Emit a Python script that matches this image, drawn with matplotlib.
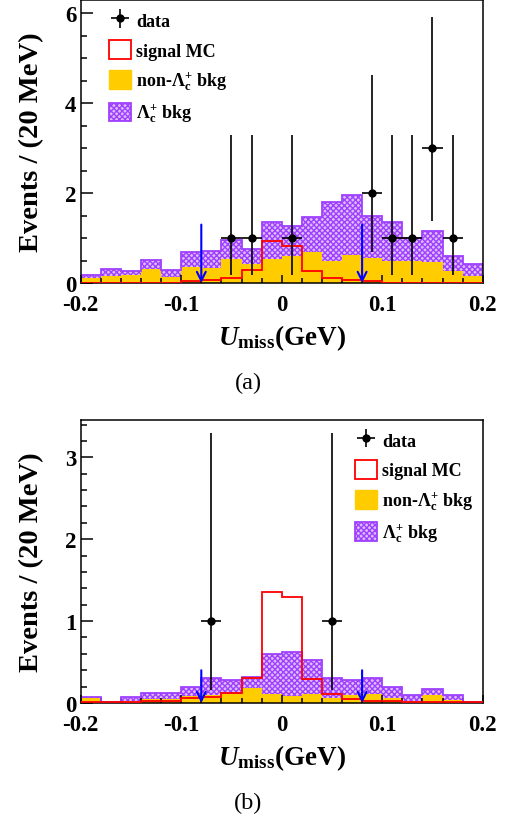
import matplotlib
matplotlib.use("Agg")
import matplotlib.pyplot as plt
import matplotlib.patches as mpatches
from matplotlib.ticker import MultipleLocator, FormatStrFormatter
import numpy as np

plt.rcParams['font.family'] = ['Liberation Serif', 'DejaVu Serif']
plt.rcParams['font.weight'] = 'bold'
plt.rcParams['mathtext.fontset'] = 'custom'
plt.rcParams['mathtext.rm'] = 'Liberation Serif:bold'
plt.rcParams['mathtext.it'] = 'Liberation Serif:italic:bold'
plt.rcParams['mathtext.bf'] = 'Liberation Serif:bold'
plt.rcParams['mathtext.bfit'] = 'Liberation Serif:italic:bold'
plt.rcParams['axes.unicode_minus'] = False
plt.rcParams['hatch.linewidth'] = 1.0

# bin edges of U_miss (GeV), 20 MeV bins
edges = np.linspace(-0.2, 0.2, 21)

# ---- panel (a) ----
nonlc_a = [0.11, 0.16, 0.18, 0.31, 0.14, 0.36, 0.34, 0.54, 0.42, 0.54,
           0.59, 0.68, 0.49, 0.62, 0.55, 0.50, 0.48, 0.46, 0.27, 0.16]
lcbkg_a = [0.07, 0.15, 0.095, 0.20, 0.16, 0.32, 0.37, 0.42, 0.34, 0.81,
           0.67, 0.78, 1.31, 1.33, 0.95, 0.85, 0.52, 0.69, 0.33, 0.26]
signal_a = [0.01, 0.01, 0.01, 0.01, 0.01, 0.04, 0.06, 0.11, 0.30, 0.94,
            0.83, 0.26, 0.12, 0.07, 0.04, 0.01, 0.01, 0.01, 0.01, 0.01]
data_a_x = [-0.05, -0.03, 0.01, 0.09, 0.11, 0.13, 0.15, 0.17]
data_a_y = [1, 1, 1, 2, 1, 1, 3, 1]
data_a_lo = [0.17, 0.17, 0.17, 0.70, 0.17, 0.17, 1.37, 0.17]
data_a_hi = [3.30, 3.30, 3.30, 4.64, 3.30, 3.30, 5.93, 3.30]

# ---- panel (b) ----
nonlc_b = [0.06, 0.00, 0.03, 0.05, 0.05, 0.08, 0.10, 0.11, 0.18, 0.11,
           0.08, 0.11, 0.06, 0.10, 0.11, 0.06, 0.02, 0.10, 0.04, 0.00]
lcbkg_b = [0.01, 0.016, 0.04, 0.07, 0.07, 0.12, 0.20, 0.17, 0.14, 0.49,
           0.54, 0.42, 0.24, 0.18, 0.19, 0.13, 0.08, 0.07, 0.06, 0.01]
signal_b = [0.016, 0.016, 0.01, 0.02, 0.03, 0.06, 0.07, 0.12, 0.31, 1.35,
            1.29, 0.29, 0.11, 0.05, 0.03, 0.02, 0.01, 0.01, 0.01, 0.01]
data_b_x = [-0.07, 0.05]
data_b_y = [1, 1]
data_b_lo = [0.16, 0.16]
data_b_hi = [3.30, 3.30]

cut_x = [-0.08, 0.08]
arrow_top = [1.3, 0.40]
ymax = [6.3, 3.46]
ymajor = [2, 1]
yminor = [0.5, 0.2]
captions = ['(a)', '(b)']

YELLOW = '#ffcc00'
PURPLE = '#a040ff'
PURPLE_BG = '#dcbcff'

fig = plt.figure(figsize=(5.11, 8.2), dpi=100)
ax_a = fig.add_axes([80.7 / 511, 1 - 284 / 820, 402 / 511, 283 / 820])
ax_b = fig.add_axes([80.7 / 511, 1 - 704 / 820, 402 / 511, 283.3 / 820])

panels = [
    (ax_a, nonlc_a, lcbkg_a, signal_a, data_a_x, data_a_y, data_a_lo, data_a_hi),
    (ax_b, nonlc_b, lcbkg_b, signal_b, data_b_x, data_b_y, data_b_lo, data_b_hi),
]

for i, (ax, nonlc, lcbkg, sig, dx, dy, dlo, dhi) in enumerate(panels):
    nonlc = np.array(nonlc)
    total = nonlc + np.array(lcbkg)

    # stacked backgrounds
    ax.stairs(nonlc, edges, baseline=0, fill=True, color=YELLOW, lw=0, zorder=1)
    ax.stairs(total, edges, baseline=nonlc, fill=True, facecolor=PURPLE_BG,
              edgecolor=PURPLE, hatch='xxxxxx', lw=0, zorder=1)
    ax.stairs(total, edges, baseline=None, color=PURPLE, lw=1.3, zorder=2)

    # signal MC
    ax.stairs(sig, edges, baseline=None, color='red', lw=1.3, zorder=3)

    # data
    dy = np.array(dy)
    yerr = [dy - np.array(dlo), np.array(dhi) - dy]
    eb = ax.errorbar(dx, dy, xerr=0.01, yerr=yerr, fmt='o', color='black',
                     ms=5, lw=1.2, capsize=0, zorder=5)

    # signal region cut arrows
    for xc in cut_x:
        ax.annotate('', xy=(xc, 0), xytext=(xc, arrow_top[i]),
                    arrowprops=dict(arrowstyle='->', color='blue', lw=1.5,
                                    mutation_scale=16, shrinkA=0, shrinkB=0),
                    zorder=4)

    ax.set_xlim(-0.2, 0.2)
    ax.set_ylim(0, ymax[i])
    ax.xaxis.set_major_locator(MultipleLocator(0.1))
    ax.xaxis.set_minor_locator(MultipleLocator(0.02))
    ax.yaxis.set_major_locator(MultipleLocator(ymajor[i]))
    ax.yaxis.set_minor_locator(MultipleLocator(yminor[i]))
    ax.xaxis.set_major_formatter(FormatStrFormatter('%g'))
    ax.yaxis.set_major_formatter(FormatStrFormatter('%g'))
    ax.tick_params(axis='both', which='both', direction='in', top=False, right=False,
                   labelsize=16.5, width=1.1)
    ax.tick_params(axis='y', which='major', length=8.5, pad=3)
    ax.tick_params(axis='y', which='minor', length=4.3)
    ax.tick_params(axis='x', which='major', length=6, pad=8)
    ax.tick_params(axis='x', which='minor', length=3.5)
    for s in ax.spines.values():
        s.set_linewidth(1.1)

    ax.set_ylabel('Events / (20 MeV)', fontsize=20.5, fontweight='bold')
    ax.yaxis.set_label_coords(-0.09, 0.5)
    ax.set_xlabel(r'$\mathbfit{U}_{\mathbf{miss}}$(GeV)', fontsize=19.5, fontweight='bold')
    ax.xaxis.set_label_coords(0.5, -0.14)

    handles = [
        eb,
        mpatches.Patch(facecolor='white', edgecolor='red', lw=1.3),
        mpatches.Patch(facecolor=YELLOW, edgecolor=YELLOW),
        mpatches.Patch(facecolor=PURPLE_BG, edgecolor=PURPLE, hatch='xxxxxx', lw=1.3),
    ]
    labels = ['data', 'signal MC', r'non-$\Lambda_{\mathbf{c}}^{+}$ bkg',
              r'$\Lambda_{\mathbf{c}}^{+}$ bkg']
    anchor = (0.07, 0.962) if i == 0 else (0.682, 0.962)
    ax.legend(handles, labels, loc='upper left', bbox_to_anchor=anchor, frameon=False,
              handlelength=1.22, handleheight=1.22, labelspacing=0.55,
              handletextpad=0.3, borderpad=0, borderaxespad=0,
              prop={'weight': 'bold', 'size': 13})

fig.text(248 / 511, 1 - 383 / 820, captions[0], ha='center', va='center',
         fontsize=17.5, fontweight='normal')
fig.text(248 / 511, 1 - 803 / 820, captions[1], ha='center', va='center',
         fontsize=17.5, fontweight='normal')

fig.savefig('out.png', dpi=100)
